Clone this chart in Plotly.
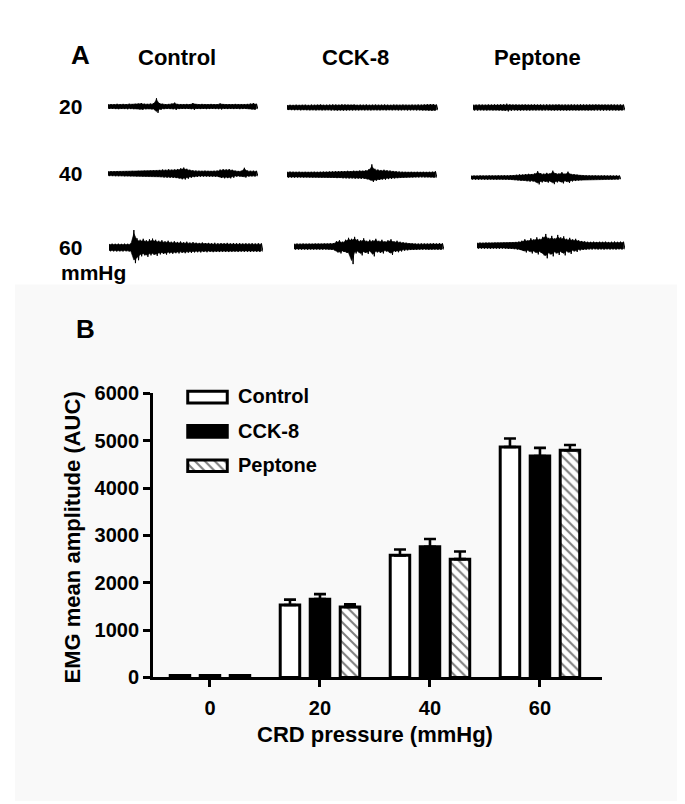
import plotly.graph_objects as go

# ---------------- DATA ----------------
# Panel B: EMG mean amplitude (AUC) vs CRD pressure
pressures = ["0", "20", "40", "60"]
control = [40, 1530, 2580, 4870]
control_err = [0, 115, 125, 180]
cck8 = [40, 1655, 2760, 4680]
cck8_err = [0, 105, 165, 170]
peptone = [40, 1490, 2500, 4800]
peptone_err = [0, 55, 160, 110]

series_names = ["Control", "CCK-8", "Peptone"]
row_labels = ["20", "40", "60"]

# Panel A: EMG trace envelopes (upper / lower half-amplitude)
env = {
    ("20", "Control"): (
        [2.4,2.6,2.5,2.8,2.5,2.7,2.6,2.9,2.6,2.8,3.0,3.6,2.9,2.7,3.0,3.4,8.5,3.6,2.8,2.6,2.7,2.9,4.0,2.7,2.6,2.5,2.7,2.6,3.6,2.6,2.5,2.7,2.6,2.5,2.7,2.6,2.5,3.2,2.6,2.5,2.6,2.5,2.7,2.6,2.5,2.6,2.7,3.0,3.5,2.8],
        [2.4,2.5,2.6,2.7,2.5,2.6,2.8,2.6,2.7,2.6,2.9,3.4,2.8,2.6,2.9,3.2,6.5,3.4,2.7,2.5,2.6,2.8,3.5,2.6,2.5,2.6,2.5,2.7,3.4,2.5,2.6,2.5,2.7,2.6,2.5,2.6,2.7,3.0,2.5,2.6,2.5,2.6,2.5,2.7,2.6,2.5,2.6,2.9,3.4,2.7]),
    ("20", "CCK-8"): (
        [2.6,2.8,2.7,2.9,2.7,2.8,2.9,2.7,3.0,2.8,2.9,3.1,2.8,2.9,3.0,3.2,3.1,2.9,3.3,3.2,3.0,2.9,3.1,2.8,3.0,2.9,3.1,2.8,2.9,3.0,2.8,2.9,3.1,2.9,2.8,3.0,2.9,2.8,3.0,2.9,2.8,3.0,2.9,3.1,3.0,3.2,3.4,3.6,3.5,3.0],
        [2.6,2.7,2.8,2.7,2.9,2.7,2.8,2.9,2.8,3.0,2.8,3.0,2.9,2.8,3.1,3.0,3.2,3.0,3.2,3.1,2.9,3.0,2.9,3.0,2.8,3.0,2.9,3.0,2.8,2.9,3.0,2.8,3.0,2.8,2.9,2.8,3.0,2.9,2.8,3.0,2.9,2.8,3.0,2.9,3.1,3.0,3.3,3.5,3.4,2.9]),
    ("20", "Peptone"): (
        [3.0,2.9,3.1,3.0,2.9,3.1,3.0,3.2,3.1,3.3,3.4,3.9,3.3,3.1,3.2,3.0,3.1,3.2,3.0,3.1,3.2,3.0,3.1,3.0,3.2,3.1,3.0,3.1,3.2,3.0,3.1,3.0,3.2,3.1,3.0,3.2,3.1,3.0,3.1,3.0,3.2,3.1,3.0,3.1,3.0,3.2,3.1,3.0,3.1,3.0],
        [3.0,3.1,2.9,3.0,3.1,2.9,3.1,3.0,3.2,3.2,3.5,4.0,3.4,3.0,3.1,3.2,3.0,3.1,3.2,3.0,3.1,3.0,3.2,3.1,3.0,3.1,3.2,3.0,3.1,3.0,3.2,3.1,3.0,3.1,3.2,3.0,3.1,3.2,3.0,3.1,3.0,3.1,3.2,3.0,3.1,3.0,3.1,3.2,3.0,3.1]),
    ("40", "Control"): (
        [2.5,2.6,2.5,2.7,2.6,2.5,2.7,2.6,2.8,2.7,2.9,2.8,3.0,2.9,3.1,3.3,3.2,3.8,4.2,3.9,4.5,4.0,4.3,4.8,5.5,6.2,5.0,4.0,3.5,3.2,3.0,2.9,3.1,2.9,2.8,3.0,3.2,4.2,4.6,4.4,4.7,4.0,3.0,2.8,3.0,6.0,3.2,2.9,3.0,2.9],
        [2.5,2.5,2.6,2.6,2.5,2.7,2.6,2.7,2.6,2.8,2.7,2.9,2.9,3.0,3.0,3.2,3.4,3.6,4.0,4.2,4.3,4.4,4.6,5.0,5.8,6.0,5.2,4.2,3.6,3.3,3.1,3.0,2.9,3.0,2.9,3.1,3.3,4.5,4.8,4.6,4.8,4.2,3.1,2.9,3.0,4.0,3.0,2.8,2.9,2.8]),
    ("40", "CCK-8"): (
        [3.0,3.1,3.0,2.9,3.0,2.8,2.9,2.8,2.9,3.0,2.9,3.0,3.1,3.0,3.2,3.3,3.5,3.4,3.7,3.6,3.9,3.7,4.0,3.8,4.2,4.0,4.5,5.5,10.5,6.0,5.2,4.8,5.0,4.5,4.2,3.8,3.5,3.2,3.0,2.9,2.8,2.9,2.8,2.9,2.8,2.9,2.8,2.9,3.0,3.4],
        [3.0,3.0,3.1,3.0,2.9,3.0,2.8,2.9,3.0,2.9,3.0,3.1,3.0,3.2,3.3,3.4,3.6,3.5,3.8,3.9,4.0,3.9,4.2,4.1,4.4,4.3,4.8,5.8,7.5,6.2,5.5,5.0,5.2,4.6,4.3,3.9,3.6,3.3,3.0,2.9,2.8,2.9,2.8,2.9,2.8,2.9,2.8,2.9,3.0,3.3]),
    ("40", "Peptone"): (
        [2.0,2.1,2.0,2.2,2.1,2.0,2.2,2.1,2.0,2.2,2.1,2.3,2.2,2.4,2.6,2.8,3.2,3.0,3.5,3.8,3.6,4.2,6.5,4.5,4.0,4.8,4.3,7.0,4.6,4.2,5.5,4.0,6.0,3.8,3.5,3.0,2.6,2.4,2.3,2.2,2.1,2.2,2.0,2.1,2.2,2.0,2.1,2.0,2.1,2.0],
        [2.0,2.1,2.2,2.0,2.1,2.2,2.0,2.1,2.2,2.0,2.1,2.2,2.3,2.5,2.7,3.0,3.4,3.2,3.8,4.2,4.0,4.8,7.0,5.0,4.4,5.2,4.6,6.8,5.0,4.5,6.0,4.2,5.5,4.0,3.6,3.0,2.7,2.4,2.3,2.2,2.1,2.0,2.2,2.1,2.0,2.1,2.2,2.0,2.1,2.0]),
    ("60", "Control"): (
        [3.8,4.0,3.9,4.0,3.8,4.0,3.9,4.2,18.0,9.5,8.0,9.0,7.5,8.5,9.2,8.0,7.0,7.5,6.5,7.0,6.0,6.5,5.8,6.2,5.5,6.0,5.2,5.6,5.0,4.8,5.2,4.6,4.8,4.5,4.9,4.4,4.6,4.5,4.8,4.3,4.6,4.4,4.5,4.2,4.4,4.3,4.5,4.2,4.4,4.3],
        [3.8,3.9,4.0,3.9,4.0,3.8,4.0,4.5,16.0,13.0,9.0,8.0,9.5,8.0,7.5,8.5,7.0,6.5,7.2,6.0,6.4,5.8,6.0,5.5,5.8,5.2,5.5,5.0,4.8,5.0,4.6,4.8,4.5,4.7,4.4,4.6,4.3,4.5,4.6,4.4,4.3,4.5,4.2,4.4,4.3,4.5,4.2,4.4,4.5,4.3]),
    ("60", "CCK-8"): (
        [3.0,3.1,3.0,3.2,3.0,3.1,3.0,3.2,3.1,3.0,3.2,3.1,3.3,3.6,5.5,6.5,5.0,7.0,9.0,8.0,10.0,7.5,6.5,8.5,6.0,7.0,6.5,8.0,6.0,7.0,5.5,6.5,7.5,5.5,6.0,5.0,4.5,4.0,3.5,3.3,3.2,3.1,3.3,3.2,3.1,3.2,3.4,3.2,3.5,3.3],
        [3.0,3.0,3.1,3.0,3.2,3.0,3.1,3.0,3.1,3.2,3.0,3.1,3.3,3.8,6.0,7.0,5.5,6.5,8.0,18.0,7.0,6.0,9.0,6.5,7.5,5.5,10.0,6.0,6.5,7.0,5.0,6.0,8.5,5.5,5.8,5.0,4.2,3.8,3.5,3.3,3.2,3.1,3.2,3.1,3.3,3.2,3.1,3.3,3.4,3.2]),
    ("60", "Peptone"): (
        [3.0,3.1,3.0,3.2,3.1,3.0,3.2,3.1,3.0,3.2,3.1,3.3,3.5,3.8,4.2,5.0,6.5,5.5,7.5,6.5,8.5,7.0,9.0,12.0,8.0,10.0,7.5,11.0,8.5,9.5,7.0,8.0,6.5,7.0,5.5,4.8,4.4,4.0,3.9,4.1,3.8,4.0,3.9,4.1,3.8,4.0,4.2,3.9,4.1,4.0],
        [3.0,3.0,3.1,3.0,3.2,3.0,3.1,3.2,3.0,3.1,3.2,3.3,3.6,4.0,4.5,5.5,7.0,6.0,8.0,7.0,9.0,7.5,10.0,13.0,9.0,11.0,8.0,9.5,7.5,10.0,7.0,8.5,6.0,6.5,5.0,4.5,4.2,3.9,4.0,3.8,4.0,3.9,4.1,3.8,4.0,3.9,4.1,3.8,4.0,3.9]),
}

# ---------------- LAYOUT (pixel placement) ----------------
W, H = 685, 804
OFF = 8   # the page body adds an 8 px margin around the figure
FONT = "Liberation Sans, Arial, sans-serif"


def fx(px):
    return (px - OFF) / W


def fy(py):
    return 1 - (py - OFF) / H


# trace placement: (x_start, x_end, y_center) in screen pixels
trace_box = {
    ("20", "Control"): (108, 258, 98), ("20", "CCK-8"): (287, 438, 99), ("20", "Peptone"): (473, 625, 99),
    ("40", "Control"): (108, 258, 167), ("40", "CCK-8"): (287, 437, 168), ("40", "Peptone"): (471, 621, 171),
    ("60", "Control"): (109, 263, 243), ("60", "CCK-8"): (294, 444, 242), ("60", "Peptone"): (477, 625, 241),
}
row_label_y = {"20": 98, "40": 167, "60": 243}
col_title_x = {"Control": 177, "CCK-8": 355, "Peptone": 537}


def label(text, px, py, size, angle=0, xanchor="center"):
    return dict(text=text, x=fx(px), y=fy(py), xref="paper", yref="paper", showarrow=False,
                xanchor=xanchor, yanchor="middle", textangle=angle,
                font=dict(family=FONT, size=size, color="black", weight="bold"))


fig = go.Figure()
layout_axes = {}
annotations = []
shapes = []

# subtle grey background of panel B
shapes.append(dict(type="rect", xref="paper", yref="paper", x0=fx(15), x1=1, y0=0, y1=fy(281),
                   fillcolor="#f9f9f9", line=dict(width=0), layer="below"))

# ---------------- Panel A traces ----------------
k = 2
for (row, col), (up, dn) in env.items():
    x0, x1, yc = trace_box[(row, col)]
    n = len(up)
    t = list(range(n))
    # solid band between the envelopes (slightly inset)
    fig.add_trace(go.Scatter(x=t + t[::-1], y=[0.8 * v for v in up] + [-0.8 * v for v in dn[::-1]],
                             mode="lines", fill="toself", fillcolor="black",
                             line=dict(color="black", width=0.6),
                             hoverinfo="skip", showlegend=False, xaxis=f"x{k}", yaxis=f"y{k}"))
    # jagged zig-zag reaching the envelopes
    xs, ys = [], []
    for i in range(n):
        xs += [i, i + 0.5]
        ys += [up[i], -dn[i]]
    fig.add_trace(go.Scatter(x=xs, y=ys, mode="lines", line=dict(color="black", width=1.0),
                             hoverinfo="skip", showlegend=False, xaxis=f"x{k}", yaxis=f"y{k}"))
    half = 22
    layout_axes[f"xaxis{k}"] = dict(domain=[fx(x0), fx(x1)], range=[0, n - 0.5], visible=False,
                                    anchor=f"y{k}", fixedrange=True)
    layout_axes[f"yaxis{k}"] = dict(domain=[fy(yc + half), fy(yc - half)], range=[-half, half],
                                    visible=False, anchor=f"x{k}", fixedrange=True)
    k += 1

# Panel A text
annotations.append(label("A", 80, 45, 26))
for c, cx in col_title_x.items():
    annotations.append(label(c, cx, 48, 22))
for r in row_labels:
    annotations.append(label(r, 70, row_label_y[r], 21))
annotations.append(label("mmHg", 93, 269, 21))

# ---------------- Panel B bars ----------------
slot = 30 / 110.0       # distance between bar centres (category units)
bw = 19.5 / 110.0       # bar width (category units)
bar_series = [
    (series_names[0], control, control_err, dict(color="white", line=dict(color="black", width=3))),
    (series_names[1], cck8, cck8_err, dict(color="black", line=dict(color="black", width=3))),
    (series_names[2], peptone, peptone_err,
     dict(color="white", line=dict(color="black", width=3),
          pattern=dict(shape="\\", fgcolor="black", bgcolor="white", size=7, solidity=0.3))),
]
for i, (name, vals, errs, marker) in enumerate(bar_series):
    fig.add_trace(go.Bar(
        x=pressures, y=vals, name=name, marker=marker,
        width=bw, offset=(i - 1) * slot - bw / 2,
        error_y=dict(type="data", array=errs, arrayminus=[0] * len(errs), symmetric=False,
                     color="black", thickness=2.6, width=6),
        showlegend=False, xaxis="x", yaxis="y"))

layout_axes["xaxis"] = dict(
    domain=[fx(153), fx(602)], range=[-0.518, 3.564], type="category",
    showline=True, linecolor="black", linewidth=2.8, ticks="outside", ticklen=7, tickwidth=2.6,
    tickcolor="black", showgrid=False, zeroline=False, anchor="y", fixedrange=True,
    tickfont=dict(family=FONT, size=20, color="black", weight="bold"), ticklabelstandoff=4)
layout_axes["yaxis"] = dict(
    domain=[fy(685), fy(393)], range=[0, 6000], tickvals=[0, 1000, 2000, 3000, 4000, 5000, 6000],
    showline=True, linecolor="black", linewidth=2.8, ticks="outside", ticklen=7, tickwidth=2.6,
    tickcolor="black", showgrid=False, zeroline=False, anchor="x", fixedrange=True,
    tickfont=dict(family=FONT, size=20, color="black", weight="bold"))

# Custom legend (bar swatches on a small axis + text)
leg_k = k
leg_markers = [bar_series[0][3], bar_series[1][3], bar_series[2][3]]
for j, name in enumerate(series_names):
    fig.add_trace(go.Bar(x=[1], y=[name], orientation="h", marker=leg_markers[j],
                         width=0.34, offset=-0.17, showlegend=False, hoverinfo="skip",
                         xaxis=f"x{leg_k}", yaxis=f"y{leg_k}"))
layout_axes[f"xaxis{leg_k}"] = dict(domain=[fx(183), fx(232)], range=[-0.12, 1.12], visible=False,
                                    anchor=f"y{leg_k}", fixedrange=True)
layout_axes[f"yaxis{leg_k}"] = dict(domain=[fy(485), fy(379)], range=[2.5, -0.5], type="category",
                                    categoryorder="array", categoryarray=series_names,
                                    visible=False, anchor=f"x{leg_k}", fixedrange=True)
leg_y = [396, 432, 467]
for j, name in enumerate(series_names):
    annotations.append(label(name, 236, leg_y[j], 20, xanchor="left"))

# Panel B text
annotations.append(label("B", 85, 327, 26))
annotations.append(label("EMG mean amplitude (AUC)", 72, 541, 22, angle=-90))
annotations.append(label("CRD pressure (mmHg)", 375, 744, 22))

fig.update_layout(
    width=W, height=H, margin=dict(l=0, r=0, t=0, b=0),
    paper_bgcolor="white", plot_bgcolor="rgba(0,0,0,0)",
    barmode="overlay", showlegend=False,
    annotations=annotations, shapes=shapes,
    **layout_axes,
)

fig.write_html("out.html")
